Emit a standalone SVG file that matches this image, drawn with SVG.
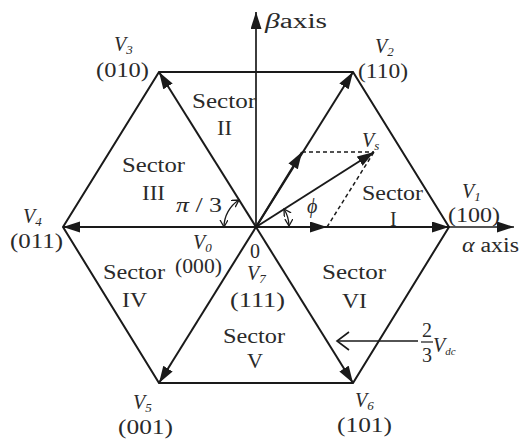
<svg xmlns="http://www.w3.org/2000/svg" width="520" height="439" viewBox="0 0 520 439">
<defs>
<marker id="ah" markerUnits="userSpaceOnUse" markerWidth="18" markerHeight="12" refX="17" refY="5.5" orient="auto">
<path d="M0,0 L17,5.5 L0,11 z" fill="#1a1a1a"/>
</marker>
<marker id="sm" markerUnits="userSpaceOnUse" markerWidth="10" markerHeight="10" refX="7" refY="4" orient="auto-start-reverse">
<path d="M0,0 L7,4 L0,8" fill="none" stroke="#1a1a1a" stroke-width="1.3"/>
</marker>
<marker id="op" markerUnits="userSpaceOnUse" markerWidth="16" markerHeight="22" refX="13" refY="10" orient="auto">
<path d="M1,1 L13,10 L1,19" fill="none" stroke="#1a1a1a" stroke-width="1.6"/>
</marker>
<style>
.t{font-family:"Liberation Serif","Times New Roman",serif;font-size:20px;fill:#2a2a2a}
.i{font-style:italic}
.ln{stroke:#1a1a1a;stroke-width:2;fill:none}
.ax{stroke:#1a1a1a;stroke-width:1.7;fill:none}
.ds{stroke:#1a1a1a;stroke-width:1.5;fill:none;stroke-dasharray:4 3}
.arc{stroke:#1a1a1a;stroke-width:1.3;fill:none}
</style>
</defs>
<g id="connectors">
<polygon class="ln" points="159,72 353,72 449,227 353,383 159,383 63,227"/>
<line class="ax" x1="256" y1="227" x2="256" y2="12" marker-end="url(#ah)"/>
<line class="ax" x1="256" y1="227" x2="514" y2="227" marker-end="url(#ah)"/>
<line class="ln" x1="256" y1="227" x2="449" y2="227" marker-end="url(#ah)"/>
<line class="ln" x1="256" y1="227" x2="353" y2="72" marker-end="url(#ah)"/>
<line class="ln" x1="256" y1="227" x2="159" y2="72" marker-end="url(#ah)"/>
<line class="ln" x1="256" y1="227" x2="63" y2="227" marker-end="url(#ah)"/>
<line class="ln" x1="256" y1="227" x2="159" y2="383" marker-end="url(#ah)"/>
<line class="ln" x1="256" y1="227" x2="353" y2="383" marker-end="url(#ah)"/>
<line class="ln" x1="256" y1="227" x2="327" y2="227" marker-end="url(#ah)"/>
<line class="ln" x1="256" y1="227" x2="302" y2="152" marker-end="url(#ah)"/>
<line class="ln" x1="256" y1="227" x2="374" y2="152" marker-end="url(#ah)"/>
<line class="ds" x1="302" y1="152" x2="374" y2="152"/>
<line class="ds" x1="327" y1="227" x2="374" y2="152"/>
<path class="arc" d="M224,227 A32,32 0 0 1 239,200" marker-start="url(#sm)" marker-end="url(#sm)"/>
<path class="arc" d="M289,226 A33,33 0 0 0 284,209" marker-start="url(#sm)" marker-end="url(#sm)"/>
<line class="ax" x1="418" y1="341" x2="337" y2="341" marker-end="url(#op)"/>
</g>
<g id="axis-labels">
<text class="t" x="265" y="28" textLength="62" lengthAdjust="spacingAndGlyphs"><tspan class="i">β</tspan>axis</text>
<text class="t" x="462" y="252" textLength="57" lengthAdjust="spacingAndGlyphs"><tspan class="i">α</tspan> axis</text>
<text class="t" x="250" y="258">0</text>
</g>
<g id="v1"><text class="t i" x="462" y="198">V<tspan font-size="13" dy="3">1</tspan></text><text class="t" x="448" y="222" textLength="52" lengthAdjust="spacingAndGlyphs">(100)</text></g>
<g id="v2"><text class="t i" x="375" y="53">V<tspan font-size="13" dy="3">2</tspan></text><text class="t" x="358" y="78" textLength="50" lengthAdjust="spacingAndGlyphs">(110)</text></g>
<g id="v3"><text class="t i" x="114" y="51">V<tspan font-size="13" dy="3">3</tspan></text><text class="t" x="96" y="77" textLength="53" lengthAdjust="spacingAndGlyphs">(010)</text></g>
<g id="v4"><text class="t i" x="23" y="223">V<tspan font-size="13" dy="3">4</tspan></text><text class="t" x="10" y="248" textLength="53" lengthAdjust="spacingAndGlyphs">(011)</text></g>
<g id="v5"><text class="t i" x="133" y="409">V<tspan font-size="13" dy="3">5</tspan></text><text class="t" x="118" y="434" textLength="55" lengthAdjust="spacingAndGlyphs">(001)</text></g>
<g id="v6"><text class="t i" x="355" y="407">V<tspan font-size="13" dy="3">6</tspan></text><text class="t" x="337" y="432" textLength="55" lengthAdjust="spacingAndGlyphs">(101)</text></g>
<g id="v0"><text class="t i" x="193" y="249">V<tspan font-size="13" dy="3">0</tspan></text><text class="t" x="175" y="273" textLength="47" lengthAdjust="spacingAndGlyphs">(000)</text></g>
<g id="v7"><text class="t i" x="247" y="280">V<tspan font-size="13" dy="3">7</tspan></text><text class="t" x="230" y="307" textLength="55" lengthAdjust="spacingAndGlyphs">(111)</text></g>
<g id="vs"><text class="t i" x="362" y="147">V<tspan font-size="13" dy="3">s</tspan></text></g>
<g id="sector1"><text class="t" x="362" y="200" textLength="61" lengthAdjust="spacingAndGlyphs">Sector</text><text class="t" x="390" y="226">I</text></g>
<g id="sector2"><text class="t" x="192" y="108" textLength="64" lengthAdjust="spacingAndGlyphs">Sector</text><text class="t" x="217" y="135" textLength="15" lengthAdjust="spacingAndGlyphs">II</text></g>
<g id="sector3"><text class="t" x="122" y="172" textLength="63" lengthAdjust="spacingAndGlyphs">Sector</text><text class="t" x="142" y="200" textLength="23" lengthAdjust="spacingAndGlyphs">III</text></g>
<g id="sector4"><text class="t" x="103" y="279" textLength="62" lengthAdjust="spacingAndGlyphs">Sector</text><text class="t" x="122" y="307" textLength="25" lengthAdjust="spacingAndGlyphs">IV</text></g>
<g id="sector5"><text class="t" x="223" y="343" textLength="62" lengthAdjust="spacingAndGlyphs">Sector</text><text class="t" x="247" y="368" textLength="16" lengthAdjust="spacingAndGlyphs">V</text></g>
<g id="sector6"><text class="t" x="322" y="279" textLength="64" lengthAdjust="spacingAndGlyphs">Sector</text><text class="t" x="342" y="308" textLength="25" lengthAdjust="spacingAndGlyphs">VI</text></g>
<g id="angles">
<text class="t" x="176" y="212" textLength="46" lengthAdjust="spacingAndGlyphs"><tspan class="i">π</tspan> / 3</text>
<text class="t i" x="307" y="213" font-size="18">ϕ</text>
</g>
<g id="vdc">
<text class="t" x="427" y="337" text-anchor="middle" font-size="19">2</text>
<line x1="421" y1="342" x2="433" y2="342" stroke="#1a1a1a" stroke-width="1.2"/>
<text class="t" x="427" y="362" text-anchor="middle" font-size="19">3</text>
<text class="t i" x="433" y="352" font-size="19">V<tspan font-size="11" dy="3">dc</tspan></text>
</g>
</svg>
